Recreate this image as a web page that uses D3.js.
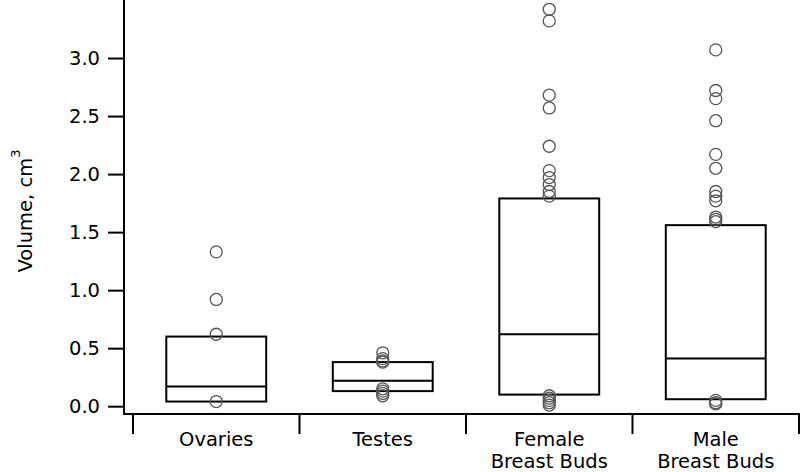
<!DOCTYPE html>
<html>
<head>
<meta charset="utf-8">
<script src="https://cdn.jsdelivr.net/npm/d3@7"></script>
<style>
  body { margin: 0; background: #fff; }
  text { font-family: "DejaVu Sans", Verdana, sans-serif; }
</style>
</head>
<body>
<div id="boxplot-volume"></div>
<script>
const categories = ["Ovaries", "Testes", "Female\nBreast Buds", "Male\nBreast Buds"]
const q1Values = [0.04, 0.13, 0.10, 0.06]
const medianValues = [0.17, 0.22, 0.62, 0.41]
const q3Values = [0.60, 0.38, 1.79, 1.56]
const outliers = [
  [1.33, 0.92, 0.62, 0.04],
  [0.46, 0.41, 0.39, 0.38, 0.15, 0.13, 0.11, 0.09],
  [3.42, 3.32, 2.68, 2.57, 2.24, 2.03, 1.97, 1.91, 1.85, 1.81, 0.09, 0.07, 0.05, 0.03, 0.01],
  [3.07, 2.72, 2.65, 2.46, 2.17, 2.05, 1.85, 1.81, 1.77, 1.63, 1.61, 1.59, 0.05, 0.03, 0.02]
]
const yTicks = [0.0, 0.5, 1.0, 1.5, 2.0, 2.5, 3.0]

const width = 800, height = 472
const axisX = 124, axisY = 414
const fontSize = "19.5px"

const svg = d3.select("#boxplot-volume")
  .append("svg")
  .attr("width", width)
  .attr("height", height)

// scales
const x = d3.scaleBand()
  .domain(categories)
  .range([133, 799])
  .paddingInner(0)

const y = d3.scaleLinear()
  .domain([-0.05, 3.5])
  .range([412, 0])

const boxW = x.bandwidth() * 0.6

// boxes + outliers
categories.forEach((c, i) => {
  const cx = x(c) + x.bandwidth() / 2
  const g = svg.append("g")
  g.append("rect")
    .attr("x", cx - boxW / 2)
    .attr("y", y(q3Values[i]))
    .attr("width", boxW)
    .attr("height", y(q1Values[i]) - y(q3Values[i]))
    .attr("fill", "none")
    .attr("stroke", "#000")
    .attr("stroke-width", 2)
  g.append("line")
    .attr("x1", cx - boxW / 2)
    .attr("x2", cx + boxW / 2)
    .attr("y1", y(medianValues[i]))
    .attr("y2", y(medianValues[i]))
    .attr("stroke", "#000")
    .attr("stroke-width", 2)
  g.selectAll("circle")
    .data(outliers[i])
    .join("circle")
    .attr("cx", cx)
    .attr("cy", d => y(d))
    .attr("r", 6)
    .attr("fill", "none")
    .attr("stroke", "#555")
    .attr("stroke-width", 1.3)
})

// Y axis
const yAxis = svg.append("g")
  .attr("transform", `translate(${axisX},0)`)
  .call(d3.axisLeft(y).tickValues(yTicks).tickFormat(d3.format(".1f")).tickSize(16).tickPadding(8))
yAxis.select(".domain")
  .attr("d", `M0,0V${axisY}`)
  .attr("stroke-width", 2)
yAxis.selectAll(".tick line").attr("stroke-width", 2)
yAxis.selectAll("text")
  .style("font-size", fontSize)
  .attr("fill", "#000")

// X axis
const xAxis = svg.append("g")
  .attr("transform", `translate(0,${axisY})`)
xAxis.append("line")
  .attr("x1", axisX - 1)
  .attr("x2", width)
  .attr("stroke", "#000")
  .attr("stroke-width", 2)
const bounds = categories.map(c => x(c)).concat([x.range()[1]])
xAxis.selectAll(".xtick")
  .data(bounds)
  .join("line")
  .attr("class", "xtick")
  .attr("x1", d => d)
  .attr("x2", d => d)
  .attr("y1", 0)
  .attr("y2", 20)
  .attr("stroke", "#000")
  .attr("stroke-width", 2)

const labels = xAxis.selectAll(".xlabel")
  .data(categories)
  .join("text")
  .attr("class", "xlabel")
  .attr("x", d => x(d) + x.bandwidth() / 2)
  .attr("y", 32)
  .attr("text-anchor", "middle")
  .style("font-size", fontSize)
labels.each(function(d) {
  d.split("\n").forEach((line, k) => {
    d3.select(this).append("tspan")
      .attr("x", x(d) + x.bandwidth() / 2)
      .attr("dy", k === 0 ? 0 : 22)
      .text(line)
  })
})

// Y axis label
const yLabel = svg.append("text")
  .attr("transform", `translate(32,${(150 + 272) / 2}) rotate(-90)`)
  .attr("text-anchor", "middle")
  .style("font-size", fontSize)
yLabel.append("tspan").text("Volume, cm")
yLabel.append("tspan").attr("dy", -12).style("font-size", "13px").text("3")
</script>
</body>
</html>
